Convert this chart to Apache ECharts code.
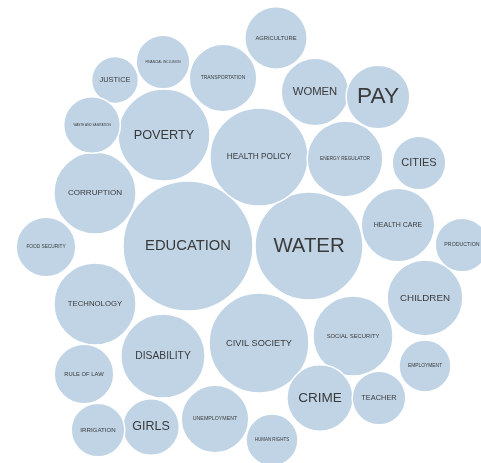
<!DOCTYPE html>
<html>
<head>
<meta charset="utf-8">
<script src="https://cdn.jsdelivr.net/npm/echarts@6/dist/echarts.min.js"></script>
<style>
  html, body { margin: 0; padding: 0; background: #fff; }
  #chart { width: 481px; height: 463px; }
</style>
</head>
<body>
<div id="chart"></div>
<script>
// Topic bubbles: label, weight (bubble area), and packed-layout position
const topics = [
  'EDUCATION', 'WATER', 'HEALTH POLICY', 'POVERTY', 'CIVIL SOCIETY',
  'CORRUPTION', 'TECHNOLOGY', 'DISABILITY', 'ENERGY REGULATOR', 'HEALTH CARE',
  'CHILDREN', 'SOCIAL SECURITY', 'WOMEN', 'PAY', 'TRANSPORTATION',
  'CRIME', 'UNEMPLOYMENT', 'CITIES', 'TEACHER', 'EMPLOYMENT',
  'GIRLS', 'IRRIGATION', 'RULE OF LAW', 'FOOD SECURITY', 'PRODUCTION',
  'AGRICULTURE', 'JUSTICE', 'FINANCIAL INCLUSION', 'WASTE AND SANITATION', 'HUMAN RIGHTS'
];
const weights = [
  100, 69, 57, 50, 59,
  40, 40, 42, 34, 32,
  34, 38, 27, 24, 27,
  26, 27, 17, 17, 16,
  19, 17, 21, 21, 17,
  23, 13, 17, 19, 16
];
const layoutX = [
  188, 309, 259, 164, 259,
  95, 95, 163, 345, 398,
  425, 353, 315, 378, 223,
  320, 215, 419, 379, 425,
  151, 98, 84, 46, 462,
  276, 115, 163, 92, 272
];
const layoutY = [
  246, 246, 157, 135, 343,
  193, 304, 356, 159, 225,
  298, 336, 92, 97, 78,
  398, 419, 163, 398, 366,
  427, 430, 374, 247, 245,
  38, 80, 62, 125, 440
];

const RADIUS_SCALE = 6.5;            // radius = scale * sqrt(weight)
const LABEL_FILL = 0.66;             // label width as share of bubble diameter
const MAX_FONT = 23;
const FONT = '"Liberation Sans", Arial, sans-serif';

const measureCtx = document.createElement('canvas').getContext('2d');
function fitFont(text, diameter) {
  measureCtx.font = '10px ' + FONT;
  const w10 = measureCtx.measureText(text).width;
  return Math.min(MAX_FONT, Math.max(3, (LABEL_FILL * diameter) / w10 * 10));
}

const data = topics.map((name, i) => {
  const d = 2 * RADIUS_SCALE * Math.sqrt(weights[i]);
  return {
    name,
    value: [layoutX[i], layoutY[i], weights[i]],
    label: { fontSize: fitFont(name, d) }
  };
});

const chart = echarts.init(document.getElementById('chart'), null, { renderer: 'canvas' });
chart.setOption({
  animation: false,
  grid: { left: 0, right: 0, top: 0, bottom: 0 },
  xAxis: { type: 'value', min: 0, max: 481, show: false },
  yAxis: { type: 'value', min: 0, max: 463, inverse: true, show: false },
  series: [{
    type: 'scatter',
    data,
    symbol: 'circle',
    symbolSize: v => 2 * RADIUS_SCALE * Math.sqrt(v[2]),
    itemStyle: { color: '#c0d4e6', opacity: 1, borderColor: '#ffffff', borderWidth: 1.5 },
    label: {
      show: true,
      position: 'inside',
      formatter: p => p.name,
      color: '#3a3a3a',
      fontFamily: FONT
    }
  }]
});
</script>
</body>
</html>
